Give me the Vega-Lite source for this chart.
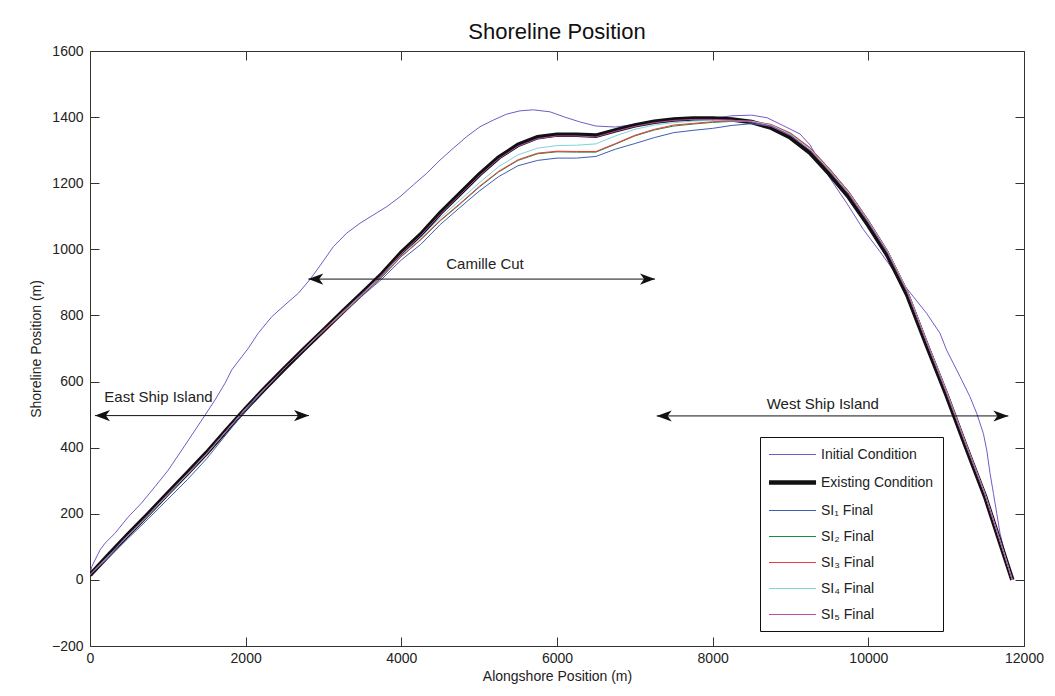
{
"$schema":"https://vega.github.io/schema/vega-lite/v6.json",
"autosize":{"type":"none"},
"width":934,"height":595,
"padding":{"left":90,"top":51,"right":31,"bottom":50},
"background":"#ffffff",
"config":{"font":"Liberation Sans","view":{"stroke":null},
"axis":{"grid":false,"domainColor":"#333","tickColor":"#333","labelColor":"#222","titleColor":"#222","labelFont":"Liberation Sans","titleFont":"Liberation Sans","labelFontSize":14,"titleFontSize":14,"titleFontWeight":"normal","tickSize":-9,"labelFlush":false}},
"title":{"text":"Shoreline Position","fontSize":22,"fontWeight":"normal","font":"Liberation Sans","color":"#111","offset":0},
"datasets":{
"lines":[
{"s":"Initial Condition","x":0,"y":15},{"s":"Initial Condition","x":22,"y":40},{"s":"Initial Condition","x":128,"y":90},{"s":"Initial Condition","x":193,"y":111},{"s":"Initial Condition","x":321,"y":141},{"s":"Initial Condition","x":490,"y":190},{"s":"Initial Condition","x":660,"y":232},{"s":"Initial Condition","x":835,"y":282},{"s":"Initial Condition","x":1005,"y":332},{"s":"Initial Condition","x":1180,"y":393},{"s":"Initial Condition","x":1350,"y":453},{"s":"Initial Condition","x":1480,"y":499},{"s":"Initial Condition","x":1605,"y":544},{"s":"Initial Condition","x":1735,"y":595},{"s":"Initial Condition","x":1820,"y":635},{"s":"Initial Condition","x":1950,"y":675},{"s":"Initial Condition","x":2035,"y":701},{"s":"Initial Condition","x":2160,"y":746},{"s":"Initial Condition","x":2335,"y":796},{"s":"Initial Condition","x":2505,"y":832},{"s":"Initial Condition","x":2676,"y":867},{"s":"Initial Condition","x":2830,"y":910},{"s":"Initial Condition","x":2960,"y":952},{"s":"Initial Condition","x":3126,"y":1008},{"s":"Initial Condition","x":3298,"y":1049},{"s":"Initial Condition","x":3469,"y":1079},{"s":"Initial Condition","x":3640,"y":1104},{"s":"Initial Condition","x":3812,"y":1129},{"s":"Initial Condition","x":3983,"y":1159},{"s":"Initial Condition","x":4154,"y":1195},{"s":"Initial Condition","x":4326,"y":1230},{"s":"Initial Condition","x":4497,"y":1270},{"s":"Initial Condition","x":4668,"y":1306},{"s":"Initial Condition","x":4840,"y":1341},{"s":"Initial Condition","x":5011,"y":1371},{"s":"Initial Condition","x":5182,"y":1391},{"s":"Initial Condition","x":5353,"y":1409},{"s":"Initial Condition","x":5525,"y":1419},{"s":"Initial Condition","x":5696,"y":1422},{"s":"Initial Condition","x":5910,"y":1416},{"s":"Initial Condition","x":6100,"y":1400},{"s":"Initial Condition","x":6300,"y":1385},{"s":"Initial Condition","x":6500,"y":1373},{"s":"Initial Condition","x":6750,"y":1370},{"s":"Initial Condition","x":7000,"y":1378},{"s":"Initial Condition","x":7500,"y":1390},{"s":"Initial Condition","x":8000,"y":1397},{"s":"Initial Condition","x":8250,"y":1404},{"s":"Initial Condition","x":8500,"y":1406},{"s":"Initial Condition","x":8700,"y":1398},{"s":"Initial Condition","x":8900,"y":1375},{"s":"Initial Condition","x":9122,"y":1349},{"s":"Initial Condition","x":9251,"y":1316},{"s":"Initial Condition","x":9400,"y":1255},{"s":"Initial Condition","x":9550,"y":1200},{"s":"Initial Condition","x":9722,"y":1140},{"s":"Initial Condition","x":9936,"y":1060},{"s":"Initial Condition","x":10150,"y":993},{"s":"Initial Condition","x":10321,"y":937},{"s":"Initial Condition","x":10407,"y":907},{"s":"Initial Condition","x":10578,"y":857},{"s":"Initial Condition","x":10750,"y":806},{"s":"Initial Condition","x":10921,"y":746},{"s":"Initial Condition","x":11006,"y":695},{"s":"Initial Condition","x":11178,"y":615},{"s":"Initial Condition","x":11306,"y":554},{"s":"Initial Condition","x":11392,"y":504},{"s":"Initial Condition","x":11478,"y":443},{"s":"Initial Condition","x":11521,"y":393},{"s":"Initial Condition","x":11564,"y":322},{"s":"Initial Condition","x":11607,"y":262},{"s":"Initial Condition","x":11650,"y":201},{"s":"Initial Condition","x":11692,"y":141},{"s":"Initial Condition","x":11756,"y":80},{"s":"Initial Condition","x":11842,"y":5},

{"s":"Existing Condition","x":0,"y":15},{"s":"Existing Condition","x":250,"y":78},{"s":"Existing Condition","x":500,"y":140},{"s":"Existing Condition","x":750,"y":200},{"s":"Existing Condition","x":1000,"y":262},{"s":"Existing Condition","x":1250,"y":323},{"s":"Existing Condition","x":1500,"y":385},{"s":"Existing Condition","x":1750,"y":452},{"s":"Existing Condition","x":2000,"y":518},{"s":"Existing Condition","x":2250,"y":580},{"s":"Existing Condition","x":2500,"y":640},{"s":"Existing Condition","x":2750,"y":698},{"s":"Existing Condition","x":3000,"y":755},{"s":"Existing Condition","x":3250,"y":812},{"s":"Existing Condition","x":3500,"y":868},{"s":"Existing Condition","x":3750,"y":925},{"s":"Existing Condition","x":4000,"y":990},{"s":"Existing Condition","x":4250,"y":1045},{"s":"Existing Condition","x":4500,"y":1110},{"s":"Existing Condition","x":4750,"y":1168},{"s":"Existing Condition","x":5000,"y":1226},{"s":"Existing Condition","x":5250,"y":1278},{"s":"Existing Condition","x":5500,"y":1316},{"s":"Existing Condition","x":5750,"y":1339},{"s":"Existing Condition","x":6000,"y":1347},{"s":"Existing Condition","x":6250,"y":1347},{"s":"Existing Condition","x":6500,"y":1344},{"s":"Existing Condition","x":6750,"y":1360},{"s":"Existing Condition","x":7000,"y":1375},{"s":"Existing Condition","x":7250,"y":1386},{"s":"Existing Condition","x":7500,"y":1393},{"s":"Existing Condition","x":7750,"y":1396},{"s":"Existing Condition","x":8000,"y":1396},{"s":"Existing Condition","x":8250,"y":1393},{"s":"Existing Condition","x":8500,"y":1385},{"s":"Existing Condition","x":8750,"y":1368},{"s":"Existing Condition","x":9000,"y":1338},{"s":"Existing Condition","x":9250,"y":1292},{"s":"Existing Condition","x":9500,"y":1228},{"s":"Existing Condition","x":9750,"y":1158},{"s":"Existing Condition","x":10000,"y":1073},{"s":"Existing Condition","x":10250,"y":980},{"s":"Existing Condition","x":10500,"y":862},{"s":"Existing Condition","x":10750,"y":710},{"s":"Existing Condition","x":11000,"y":562},{"s":"Existing Condition","x":11250,"y":405},{"s":"Existing Condition","x":11500,"y":252},{"s":"Existing Condition","x":11750,"y":72},{"s":"Existing Condition","x":11850,"y":0},

{"s":"SI₁ Final","x":0,"y":15},{"s":"SI₁ Final","x":250,"y":70},{"s":"SI₁ Final","x":500,"y":128},{"s":"SI₁ Final","x":750,"y":185},{"s":"SI₁ Final","x":1000,"y":244},{"s":"SI₁ Final","x":1250,"y":303},{"s":"SI₁ Final","x":1500,"y":367},{"s":"SI₁ Final","x":1750,"y":440},{"s":"SI₁ Final","x":2000,"y":513},{"s":"SI₁ Final","x":2250,"y":578},{"s":"SI₁ Final","x":2500,"y":640},{"s":"SI₁ Final","x":2750,"y":698},{"s":"SI₁ Final","x":3000,"y":753},{"s":"SI₁ Final","x":3250,"y":807},{"s":"SI₁ Final","x":3500,"y":860},{"s":"SI₁ Final","x":3750,"y":910},{"s":"SI₁ Final","x":4000,"y":968},{"s":"SI₁ Final","x":4250,"y":1015},{"s":"SI₁ Final","x":4500,"y":1075},{"s":"SI₁ Final","x":4750,"y":1126},{"s":"SI₁ Final","x":5000,"y":1176},{"s":"SI₁ Final","x":5250,"y":1220},{"s":"SI₁ Final","x":5500,"y":1253},{"s":"SI₁ Final","x":5750,"y":1269},{"s":"SI₁ Final","x":6000,"y":1276},{"s":"SI₁ Final","x":6250,"y":1276},{"s":"SI₁ Final","x":6500,"y":1281},{"s":"SI₁ Final","x":6750,"y":1303},{"s":"SI₁ Final","x":7000,"y":1320},{"s":"SI₁ Final","x":7250,"y":1338},{"s":"SI₁ Final","x":7500,"y":1353},{"s":"SI₁ Final","x":7750,"y":1360},{"s":"SI₁ Final","x":8000,"y":1366},{"s":"SI₁ Final","x":8250,"y":1375},{"s":"SI₁ Final","x":8500,"y":1380},{"s":"SI₁ Final","x":8750,"y":1373},{"s":"SI₁ Final","x":9000,"y":1348},{"s":"SI₁ Final","x":9250,"y":1306},{"s":"SI₁ Final","x":9500,"y":1244},{"s":"SI₁ Final","x":9750,"y":1174},{"s":"SI₁ Final","x":10000,"y":1089},{"s":"SI₁ Final","x":10250,"y":995},{"s":"SI₁ Final","x":10500,"y":876},{"s":"SI₁ Final","x":10750,"y":722},{"s":"SI₁ Final","x":11000,"y":574},{"s":"SI₁ Final","x":11250,"y":415},{"s":"SI₁ Final","x":11500,"y":260},{"s":"SI₁ Final","x":11750,"y":77},{"s":"SI₁ Final","x":11850,"y":0},

{"s":"SI₂ Final","x":0,"y":15},{"s":"SI₂ Final","x":250,"y":75},{"s":"SI₂ Final","x":500,"y":136},{"s":"SI₂ Final","x":750,"y":195},{"s":"SI₂ Final","x":1000,"y":257},{"s":"SI₂ Final","x":1250,"y":318},{"s":"SI₂ Final","x":1500,"y":381},{"s":"SI₂ Final","x":1750,"y":449},{"s":"SI₂ Final","x":2000,"y":517},{"s":"SI₂ Final","x":2250,"y":580},{"s":"SI₂ Final","x":2500,"y":640},{"s":"SI₂ Final","x":2750,"y":698},{"s":"SI₂ Final","x":3000,"y":753},{"s":"SI₂ Final","x":3250,"y":808},{"s":"SI₂ Final","x":3500,"y":863},{"s":"SI₂ Final","x":3750,"y":917},{"s":"SI₂ Final","x":4000,"y":978},{"s":"SI₂ Final","x":4250,"y":1029},{"s":"SI₂ Final","x":4500,"y":1086},{"s":"SI₂ Final","x":4750,"y":1136},{"s":"SI₂ Final","x":5000,"y":1188},{"s":"SI₂ Final","x":5250,"y":1234},{"s":"SI₂ Final","x":5500,"y":1269},{"s":"SI₂ Final","x":5750,"y":1289},{"s":"SI₂ Final","x":6000,"y":1295},{"s":"SI₂ Final","x":6250,"y":1294},{"s":"SI₂ Final","x":6500,"y":1294},{"s":"SI₂ Final","x":6750,"y":1318},{"s":"SI₂ Final","x":7000,"y":1343},{"s":"SI₂ Final","x":7250,"y":1361},{"s":"SI₂ Final","x":7500,"y":1373},{"s":"SI₂ Final","x":7750,"y":1379},{"s":"SI₂ Final","x":8000,"y":1384},{"s":"SI₂ Final","x":8250,"y":1387},{"s":"SI₂ Final","x":8500,"y":1387},{"s":"SI₂ Final","x":8750,"y":1377},{"s":"SI₂ Final","x":9000,"y":1350},{"s":"SI₂ Final","x":9250,"y":1306},{"s":"SI₂ Final","x":9500,"y":1242},{"s":"SI₂ Final","x":9750,"y":1172},{"s":"SI₂ Final","x":10000,"y":1086},{"s":"SI₂ Final","x":10250,"y":993},{"s":"SI₂ Final","x":10500,"y":874},{"s":"SI₂ Final","x":10750,"y":720},{"s":"SI₂ Final","x":11000,"y":572},{"s":"SI₂ Final","x":11250,"y":413},{"s":"SI₂ Final","x":11500,"y":259},{"s":"SI₂ Final","x":11750,"y":76},{"s":"SI₂ Final","x":11850,"y":0},

{"s":"SI₃ Final","x":0,"y":15},{"s":"SI₃ Final","x":250,"y":76},{"s":"SI₃ Final","x":500,"y":137},{"s":"SI₃ Final","x":750,"y":197},{"s":"SI₃ Final","x":1000,"y":258},{"s":"SI₃ Final","x":1250,"y":319},{"s":"SI₃ Final","x":1500,"y":382},{"s":"SI₃ Final","x":1750,"y":450},{"s":"SI₃ Final","x":2000,"y":518},{"s":"SI₃ Final","x":2250,"y":580},{"s":"SI₃ Final","x":2500,"y":640},{"s":"SI₃ Final","x":2750,"y":698},{"s":"SI₃ Final","x":3000,"y":753},{"s":"SI₃ Final","x":3250,"y":808},{"s":"SI₃ Final","x":3500,"y":863},{"s":"SI₃ Final","x":3750,"y":917},{"s":"SI₃ Final","x":4000,"y":978},{"s":"SI₃ Final","x":4250,"y":1030},{"s":"SI₃ Final","x":4500,"y":1088},{"s":"SI₃ Final","x":4750,"y":1138},{"s":"SI₃ Final","x":5000,"y":1190},{"s":"SI₃ Final","x":5250,"y":1236},{"s":"SI₃ Final","x":5500,"y":1271},{"s":"SI₃ Final","x":5750,"y":1291},{"s":"SI₃ Final","x":6000,"y":1297},{"s":"SI₃ Final","x":6250,"y":1296},{"s":"SI₃ Final","x":6500,"y":1296},{"s":"SI₃ Final","x":6750,"y":1320},{"s":"SI₃ Final","x":7000,"y":1345},{"s":"SI₃ Final","x":7250,"y":1363},{"s":"SI₃ Final","x":7500,"y":1376},{"s":"SI₃ Final","x":7750,"y":1381},{"s":"SI₃ Final","x":8000,"y":1386},{"s":"SI₃ Final","x":8250,"y":1388},{"s":"SI₃ Final","x":8500,"y":1388},{"s":"SI₃ Final","x":8750,"y":1378},{"s":"SI₃ Final","x":9000,"y":1352},{"s":"SI₃ Final","x":9250,"y":1308},{"s":"SI₃ Final","x":9500,"y":1244},{"s":"SI₃ Final","x":9750,"y":1174},{"s":"SI₃ Final","x":10000,"y":1088},{"s":"SI₃ Final","x":10250,"y":994},{"s":"SI₃ Final","x":10500,"y":876},{"s":"SI₃ Final","x":10750,"y":722},{"s":"SI₃ Final","x":11000,"y":574},{"s":"SI₃ Final","x":11250,"y":415},{"s":"SI₃ Final","x":11500,"y":260},{"s":"SI₃ Final","x":11750,"y":77},{"s":"SI₃ Final","x":11850,"y":0},

{"s":"SI₄ Final","x":0,"y":15},{"s":"SI₄ Final","x":250,"y":75},{"s":"SI₄ Final","x":500,"y":137},{"s":"SI₄ Final","x":750,"y":196},{"s":"SI₄ Final","x":1000,"y":258},{"s":"SI₄ Final","x":1250,"y":319},{"s":"SI₄ Final","x":1500,"y":382},{"s":"SI₄ Final","x":1750,"y":450},{"s":"SI₄ Final","x":2000,"y":518},{"s":"SI₄ Final","x":2250,"y":580},{"s":"SI₄ Final","x":2500,"y":640},{"s":"SI₄ Final","x":2750,"y":698},{"s":"SI₄ Final","x":3000,"y":755},{"s":"SI₄ Final","x":3250,"y":810},{"s":"SI₄ Final","x":3500,"y":865},{"s":"SI₄ Final","x":3750,"y":920},{"s":"SI₄ Final","x":4000,"y":982},{"s":"SI₄ Final","x":4250,"y":1035},{"s":"SI₄ Final","x":4500,"y":1095},{"s":"SI₄ Final","x":4750,"y":1148},{"s":"SI₄ Final","x":5000,"y":1201},{"s":"SI₄ Final","x":5250,"y":1250},{"s":"SI₄ Final","x":5500,"y":1286},{"s":"SI₄ Final","x":5750,"y":1306},{"s":"SI₄ Final","x":6000,"y":1314},{"s":"SI₄ Final","x":6250,"y":1315},{"s":"SI₄ Final","x":6500,"y":1319},{"s":"SI₄ Final","x":6750,"y":1343},{"s":"SI₄ Final","x":7000,"y":1363},{"s":"SI₄ Final","x":7250,"y":1376},{"s":"SI₄ Final","x":7500,"y":1383},{"s":"SI₄ Final","x":7750,"y":1388},{"s":"SI₄ Final","x":8000,"y":1390},{"s":"SI₄ Final","x":8250,"y":1389},{"s":"SI₄ Final","x":8500,"y":1387},{"s":"SI₄ Final","x":8750,"y":1376},{"s":"SI₄ Final","x":9000,"y":1348},{"s":"SI₄ Final","x":9250,"y":1304},{"s":"SI₄ Final","x":9500,"y":1240},{"s":"SI₄ Final","x":9750,"y":1170},{"s":"SI₄ Final","x":10000,"y":1085},{"s":"SI₄ Final","x":10250,"y":992},{"s":"SI₄ Final","x":10500,"y":874},{"s":"SI₄ Final","x":10750,"y":720},{"s":"SI₄ Final","x":11000,"y":572},{"s":"SI₄ Final","x":11250,"y":413},{"s":"SI₄ Final","x":11500,"y":259},{"s":"SI₄ Final","x":11750,"y":76},{"s":"SI₄ Final","x":11850,"y":0},

{"s":"SI₅ Final","x":0,"y":15},{"s":"SI₅ Final","x":250,"y":76},{"s":"SI₅ Final","x":500,"y":138},{"s":"SI₅ Final","x":750,"y":198},{"s":"SI₅ Final","x":1000,"y":260},{"s":"SI₅ Final","x":1250,"y":321},{"s":"SI₅ Final","x":1500,"y":383},{"s":"SI₅ Final","x":1750,"y":451},{"s":"SI₅ Final","x":2000,"y":518},{"s":"SI₅ Final","x":2250,"y":580},{"s":"SI₅ Final","x":2500,"y":640},{"s":"SI₅ Final","x":2750,"y":698},{"s":"SI₅ Final","x":3000,"y":755},{"s":"SI₅ Final","x":3250,"y":812},{"s":"SI₅ Final","x":3500,"y":867},{"s":"SI₅ Final","x":3750,"y":923},{"s":"SI₅ Final","x":4000,"y":987},{"s":"SI₅ Final","x":4250,"y":1042},{"s":"SI₅ Final","x":4500,"y":1106},{"s":"SI₅ Final","x":4750,"y":1164},{"s":"SI₅ Final","x":5000,"y":1222},{"s":"SI₅ Final","x":5250,"y":1274},{"s":"SI₅ Final","x":5500,"y":1312},{"s":"SI₅ Final","x":5750,"y":1335},{"s":"SI₅ Final","x":6000,"y":1343},{"s":"SI₅ Final","x":6250,"y":1343},{"s":"SI₅ Final","x":6500,"y":1340},{"s":"SI₅ Final","x":6750,"y":1357},{"s":"SI₅ Final","x":7000,"y":1372},{"s":"SI₅ Final","x":7250,"y":1383},{"s":"SI₅ Final","x":7500,"y":1390},{"s":"SI₅ Final","x":7750,"y":1393},{"s":"SI₅ Final","x":8000,"y":1393},{"s":"SI₅ Final","x":8250,"y":1391},{"s":"SI₅ Final","x":8500,"y":1385},{"s":"SI₅ Final","x":8750,"y":1372},{"s":"SI₅ Final","x":9000,"y":1344},{"s":"SI₅ Final","x":9250,"y":1300},{"s":"SI₅ Final","x":9500,"y":1236},{"s":"SI₅ Final","x":9750,"y":1166},{"s":"SI₅ Final","x":10000,"y":1081},{"s":"SI₅ Final","x":10250,"y":988},{"s":"SI₅ Final","x":10500,"y":870},{"s":"SI₅ Final","x":10750,"y":718},{"s":"SI₅ Final","x":11000,"y":568},{"s":"SI₅ Final","x":11250,"y":411},{"s":"SI₅ Final","x":11500,"y":257},{"s":"SI₅ Final","x":11750,"y":75},{"s":"SI₅ Final","x":11850,"y":0}
],
"arrows":[
{"name":"East Ship Island","x1":64,"x2":2814,"y":497},
{"name":"Camille Cut","x1":2805,"x2":7259,"y":910},
{"name":"West Ship Island","x1":7281,"x2":11799,"y":496}
],
"heads":[
{"x":64,"y":497,"dir":"L"},{"x":2814,"y":497,"dir":"R"},
{"x":2805,"y":910,"dir":"L"},{"x":7259,"y":910,"dir":"R"},
{"x":7281,"y":496,"dir":"L"},{"x":11799,"y":496,"dir":"R"}
],
"labels":[
{"t":"East Ship Island","x":880,"y":538},
{"t":"Camille Cut","x":5075,"y":940},
{"t":"West Ship Island","x":9415,"y":516}
]
},
"resolve":{"axis":{"x":"independent","y":"independent"}},
"layer":[
{
"data":{"name":"lines"},
"mark":{"type":"line","interpolate":"linear","clip":true},
"encoding":{
"x":{"field":"x","type":"quantitative","scale":{"domain":[0,12000],"nice":false,"zero":false},
"axis":{"orient":"bottom","values":[0,2000,4000,6000,8000,10000,12000],"format":"d","title":"Alongshore Position (m)","labelPadding":14,"titlePadding":4}},
"y":{"field":"y","type":"quantitative","scale":{"domain":[-200,1600],"nice":false,"zero":false},
"axis":{"orient":"left","values":[-200,0,200,400,600,800,1000,1200,1400,1600],"format":"d","title":"Shoreline Position (m)","labelPadding":16,"titlePadding":8}},
"color":{"field":"s","type":"nominal",
"scale":{"domain":["Initial Condition","Existing Condition","SI₁ Final","SI₂ Final","SI₃ Final","SI₄ Final","SI₅ Final"],
"range":["#7659c6","#111111","#3e5db4","#1f8a3e","#f03a3a","#7fd4da","#b44ca8"]},
"legend":{"title":null,"orient":"none","legendX":670,"legendY":386,"strokeColor":"#111","fillColor":"#ffffff","padding":9,"symbolType":"M-2.94,0H2.94","symbolSize":256,"symbolOffset":13,"labelFontSize":14,"labelFont":"Liberation Sans","labelColor":"#222","rowPadding":10,"labelOffset":18}},
"strokeWidth":{"field":"s","type":"nominal",
"scale":{"type":"ordinal","domain":["Initial Condition","Existing Condition","SI₁ Final","SI₂ Final","SI₃ Final","SI₄ Final","SI₅ Final"],"range":[1,4.5,1,1,1,1,1]},
"legend":{"title":null,"orient":"none","legendX":670,"legendY":386,"strokeColor":"#111","fillColor":"#ffffff","padding":9,"symbolType":"M-2.94,0H2.94","symbolSize":256,"symbolOffset":13,"labelFontSize":14,"labelFont":"Liberation Sans","labelColor":"#222","rowPadding":10,"labelOffset":18}},
"order":{"field":"x","type":"quantitative"}
}
},
{
"data":{"name":"arrows"},
"mark":{"type":"rule","color":"#111","strokeWidth":1},
"encoding":{
"x":{"field":"x1","type":"quantitative","axis":null},
"x2":{"field":"x2"},
"y":{"field":"y","type":"quantitative","axis":null}
}
},
{
"data":{"name":"heads"},
"mark":{"type":"point","filled":true,"color":"#111","opacity":1,"size":900,"strokeWidth":0},
"encoding":{
"x":{"field":"x","type":"quantitative","axis":null},
"y":{"field":"y","type":"quantitative","axis":null},
"shape":{"field":"dir","type":"nominal","scale":{"domain":["L","R"],"range":["M0,0L1,-0.37L0.73,0L1,0.37Z","M0,0L-1,-0.37L-0.73,0L-1,0.37Z"]},"legend":null}
}
},
{
"data":{"name":"labels"},
"mark":{"type":"text","fontSize":15,"font":"Liberation Sans","color":"#222","baseline":"alphabetic","align":"center"},
"encoding":{
"x":{"field":"x","type":"quantitative","axis":{"orient":"top","values":[0,2000,4000,6000,8000,10000,12000],"labels":false,"title":null}},
"y":{"field":"y","type":"quantitative","axis":{"orient":"right","values":[-200,0,200,400,600,800,1000,1200,1400,1600],"labels":false,"title":null}},
"text":{"field":"t"}
}
}
]
}
